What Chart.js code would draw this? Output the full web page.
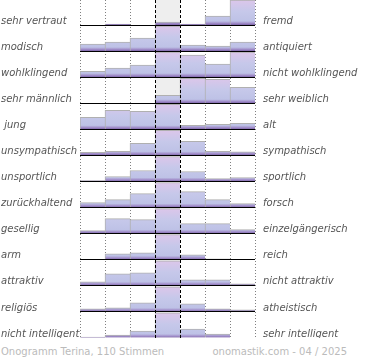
<!DOCTYPE html>
<html>
<head>
<meta charset="utf-8">
<script src="https://cdn.jsdelivr.net/npm/chart.js@4"></script>
<style>
  body { margin: 0; background: #fff; }
  #wrap { position: relative; width: 370px; height: 338px; }
  .foot { position: absolute; top: 346px; font: 10px "DejaVu Sans", sans-serif; color: #bbb; line-height: 12px; white-space: nowrap; }
</style>
</head>
<body>
<div id="wrap"><canvas id="onogramm"></canvas></div>
<span class="foot" style="left:1px">Onogramm Terina, 110 Stimmen</span>
<span class="foot" style="right:23px">onomastik.com - 04 / 2025</span>
<script>
const leftLabels = ['sehr vertraut', 'modisch', 'wohlklingend', 'sehr männlich', ' jung', 'unsympathisch',
  'unsportlich', 'zurückhaltend', 'gesellig', 'arm', 'attraktiv', 'religiös', 'nicht intelligent'];
const rightLabels = ['fremd', 'antiquiert', 'nicht wohlklingend', 'sehr weiblich', 'alt', 'sympathisch',
  'sportlich', 'forsch', 'einzelgängerisch', 'reich', 'nicht attraktiv', 'atheistisch', 'sehr intelligent'];
const steps = ['1', '2', '3', '4', '5', '6', '7'];

// share of votes per step, in % of the strongest step of each row
const votes = [
  [0, 4, 0, 12, 4, 36, 100],
  [28, 36, 52, 100, 24, 20, 36],
  [24, 36, 48, 100, 88, 52, 100],
  [0, 0, 0, 32, 100, 96, 64],
  [48, 76, 72, 100, 16, 20, 24],
  [12, 16, 48, 100, 56, 16, 14],
  [4, 20, 44, 100, 40, 12, 16],
  [20, 32, 56, 100, 64, 32, 16],
  [12, 60, 56, 100, 40, 40, 16],
  [0, 24, 28, 100, 20, 4, 0],
  [16, 48, 52, 100, 24, 24, 8],
  [12, 16, 36, 100, 32, 12, 8],
  [4, 12, 28, 100, 36, 16, 0],
];

const rowHeight = 26;
const barMax = 25;
const rowCount = leftLabels.length;
const baseOf = i => (rowCount - 1 - i) * rowHeight;
const baselines = leftLabels.map((_, i) => baseOf(i)).reverse();

function rowGradient(context) {
  const chart = context.chart;
  if (!chart.chartArea) return '#c4c8e8';
  const y = chart.scales.y;
  const base = baseOf(context.datasetIndex);
  const top = y.getPixelForValue(base + barMax);
  const bottom = y.getPixelForValue(base);
  const g = chart.ctx.createLinearGradient(0, top, 0, bottom);
  g.addColorStop(0, 'rgb(220,198,234)');
  g.addColorStop(0.45, 'rgb(198,200,234)');
  g.addColorStop(0.84, 'rgb(190,194,230)');
  g.addColorStop(0.92, 'rgb(164,146,204)');
  g.addColorStop(1, 'rgb(124,98,168)');
  return g;
}

// no extra room above / below the rows for the tick labels
function fitSide(width) {
  return s => {
    s.width = width;
    s.paddingTop = 0;
    s.paddingBottom = 0;
  };
}

const middleColumn = {
  id: 'middleColumn',
  beforeDatasetsDraw(chart) {
    const {ctx, chartArea} = chart;
    const x = chart.scales.x;
    const left = x.getPixelForValue(3) - 12.5;
    ctx.save();
    ctx.fillStyle = '#eeeeee';
    ctx.fillRect(left, chartArea.top, 25, chartArea.bottom - chartArea.top);
    ctx.restore();
  },
  afterDatasetsDraw(chart) {
    const {ctx, chartArea} = chart;
    const x = chart.scales.x;
    const left = Math.round(x.getPixelForValue(3) - 12.5) + 0.5;
    ctx.save();
    ctx.strokeStyle = '#000';
    ctx.lineWidth = 1;
    ctx.setLineDash([3, 2]);
    [left, left + 25].forEach(px => {
      ctx.beginPath();
      ctx.moveTo(px, chartArea.top);
      ctx.lineTo(px, chartArea.bottom);
      ctx.stroke();
    });
    ctx.restore();
  }
};

const labelFont = {family: 'DejaVu Sans', size: 10, style: 'italic'};

new Chart(document.getElementById('onogramm'), {
  type: 'bar',
  data: {
    labels: steps,
    datasets: votes.map((row, i) => ({
      label: leftLabels[i] + ' / ' + rightLabels[i],
      data: row.map(v => v ? [baseOf(i), baseOf(i) + v * barMax / 100] : null),
      backgroundColor: rowGradient,
      borderColor: '#b0b0b0',
      borderWidth: {top: 1, left: 1, right: 0, bottom: 0},
      borderSkipped: 'bottom',
      grouped: false,
      barPercentage: 1,
      categoryPercentage: 1
    }))
  },
  options: {
    responsive: true,
    maintainAspectRatio: false,
    animation: false,
    layout: {padding: {left: 1, right: 0, top: 0, bottom: 0}},
    plugins: {legend: {display: false}, tooltip: {enabled: false}},
    scales: {
      x: {
        ticks: {display: false},
        border: {display: false, dash: [1, 2]},
        grid: {
          offset: true,
          drawTicks: false,
          color: c => (c.index === 3 || c.index === 4) ? 'rgba(0,0,0,0)' : '#808080'
        }
      },
      y: {
        position: 'left',
        min: 0,
        max: 337,
        afterBuildTicks: s => { s.ticks = baselines.map(v => ({value: v})); },
        afterFit: fitSide(79),
        ticks: {
          callback: v => leftLabels[rowCount - 1 - v / rowHeight],
          crossAlign: 'far',
          labelOffset: -4,
          padding: 0,
          color: '#555',
          font: labelFont
        },
        border: {display: false},
        grid: {color: '#000', lineWidth: 1, drawTicks: false, z: 1}
      },
      yRight: {
        position: 'right',
        min: 0,
        max: 337,
        afterBuildTicks: s => { s.ticks = baselines.map(v => ({value: v})); },
        afterFit: fitSide(115),
        ticks: {
          callback: v => rightLabels[rowCount - 1 - v / rowHeight],
          labelOffset: -4,
          padding: 8,
          color: '#555',
          font: labelFont
        },
        border: {display: false},
        grid: {display: false, drawTicks: false}
      }
    }
  },
  plugins: [middleColumn]
});
</script>
</body>
</html>
